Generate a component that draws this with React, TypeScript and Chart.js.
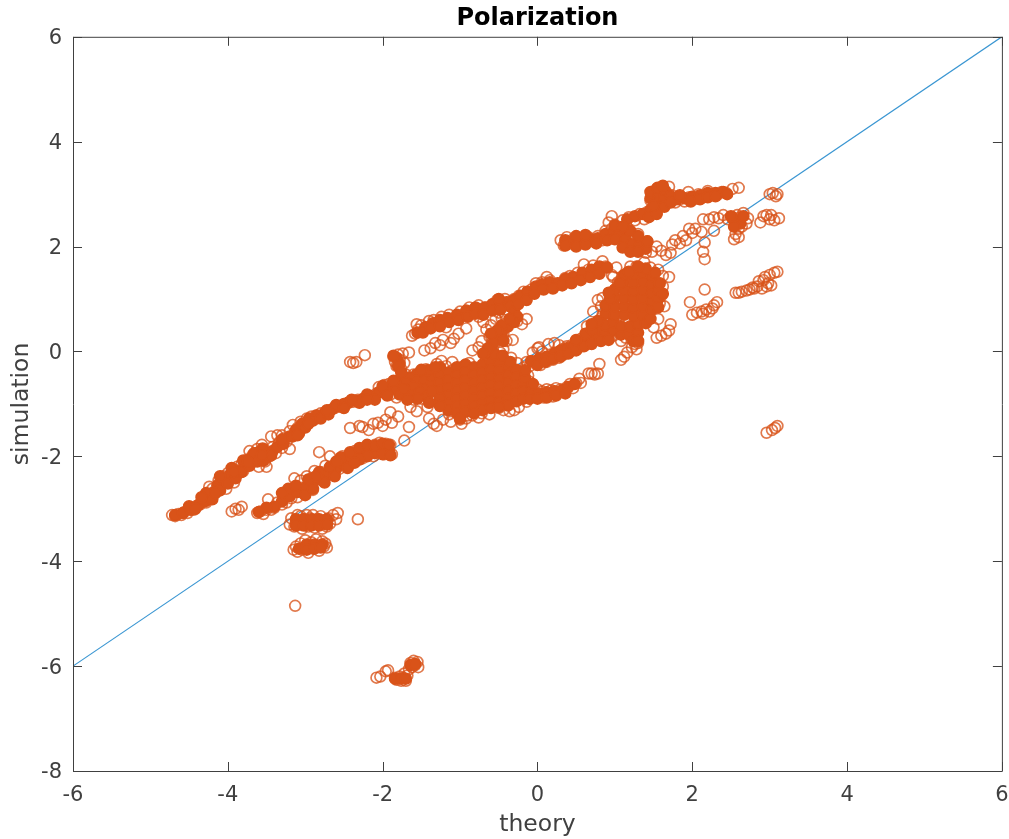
import React, { useEffect, useRef } from "react";
import { Chart, registerables } from "chart.js";

Chart.register(...registerables);

const titleText = "Polarization";
const xLabel = "theory";
const yLabel = "simulation";
const xTickValues = [-6, -4, -2, 0, 2, 4, 6];
const yTickValues = [-8, -6, -4, -2, 0, 2, 4, 6];
const lineX = [-6, 6];
const lineY = [-6, 6];

const bandUpperLeft = [
[-4.72,-3.12],[-4.68,-3.14],[-4.64,-3.1],[-4.6,-3.12],[-4.56,-3.06],[-4.52,-3.08],[-4.48,-3.0],[-4.44,-3.02],[-4.4,-2.94],[-4.36,-2.92],[-4.32,-2.86],[-4.28,-2.88],[-4.22,-2.8],[-4.2,-2.62],[-4.18,-2.72],[-4.24,-2.58],[-4.14,-2.58],[-4.12,-2.46],[-4.08,-2.52],[-4.06,-2.38],[-4.02,-2.46],[-4.0,-2.32],[-3.98,-2.4],[-3.94,-2.26],[-3.92,-2.36],[-3.88,-2.2],[-3.86,-2.32],[-3.82,-2.14],[-3.8,-2.28],[-3.76,-2.18],[-3.74,-2.06],[-3.7,-2.12],[-3.68,-1.98],[-3.64,-2.06],[-3.62,-1.86],[-3.6,-2.2],[-3.58,-1.98],[-3.56,-1.78],[-3.52,-2.1],[-3.5,-1.9],[-3.46,-2.0],[-3.44,-1.62],[-3.42,-1.82],[-3.38,-1.94],[-3.36,-1.6],[-3.34,-1.74],[-3.3,-1.84],[-3.28,-1.66],[-3.24,-1.72],[-3.2,-1.52],[-3.16,-1.4],[-3.14,-1.56],[-3.1,-1.46],[-3.06,-1.34],[-3.02,-1.38],[-2.98,-1.28],[-2.92,-1.24],[-2.86,-1.22],[-2.8,-1.18],[-2.74,-1.18],[-2.68,-1.12],[-2.62,-1.08],[-2.56,-1.04],[-2.5,-1.02],[-2.44,-0.98],[-2.38,-0.96],[-2.32,-0.92],[-2.26,-0.92],[-2.2,-0.9],[-2.14,-0.86],[-2.08,-0.8],[-2.02,-0.78],[-1.96,-0.76],[-2.05,-0.68],[-1.98,-0.64],[-1.92,-0.62],[-1.86,-0.72],[-1.8,-0.66],[-1.9,-0.82],[-1.82,-0.88],
[-2.42,-0.2],[-2.38,-0.22],[-2.34,-0.2],[-2.23,-0.07],
[-3.72,-1.9],[-3.5,-2.2],[-3.3,-1.6],[-3.2,-1.86],[-3.92,-2.5],[-4.02,-2.62],
];

const bandLowerLeft = [
[-3.95,-3.05],[-3.9,-3.0],[-3.86,-3.02],[-3.82,-2.96],[-3.62,-3.08],[-3.58,-3.05],[-3.54,-3.1],[-3.5,-3.02],[-3.48,-2.82],[-3.44,-3.02],[-3.4,-2.98],[-3.36,-2.88],[-3.3,-2.92],[-3.26,-2.76],[-3.24,-2.88],[-3.2,-2.66],[-3.18,-2.8],[-3.14,-2.42],[-3.12,-2.66],[-3.1,-2.78],[-3.06,-2.46],[-3.04,-2.6],[-3.0,-2.72],[-2.98,-2.38],[-2.96,-2.54],[-2.92,-2.42],[-2.9,-2.64],[-2.88,-2.28],[-2.84,-2.44],[-2.82,-1.92],[-2.8,-2.3],[-2.76,-2.48],[-2.74,-2.18],[-2.7,-2.34],[-2.68,-2.0],[-2.66,-2.22],[-2.62,-2.36],[-2.6,-2.12],[-2.56,-2.24],[-2.52,-2.0],[-2.5,-2.12],[-2.46,-2.22],[-2.42,-2.0],[-2.4,-2.12],[-2.36,-1.9],[-2.34,-2.06],[-2.3,-1.96],[-2.26,-2.04],[-2.22,-1.84],[-2.2,-1.96],[-2.16,-1.88],[-2.12,-2.0],[-2.1,-1.78],[-2.06,-1.92],[-2.02,-1.84],[-1.98,-1.96],[-1.96,-1.76],[-1.92,-1.88],[-1.88,-1.96],[-1.9,-1.78],[-1.98,-1.86],[-2.04,-1.74],
[-2.42,-1.46],[-2.3,-1.42],[-2.26,-1.44],[-2.18,-1.5],[-2.12,-1.38],[-2.06,-1.36],[-2.0,-1.42],[-1.96,-1.3],[-1.9,-1.16],[-1.88,-1.36],[-1.8,-1.24],[-1.72,-1.7],[-1.66,-1.44],
[-2.32,-3.2],[-3.13,-4.85],
];

const clusterMinus3 = [
[-3.2,-3.3],[-3.18,-3.18],[-3.14,-3.34],[-3.12,-3.24],[-3.1,-3.12],[-3.08,-3.3],[-3.04,-3.38],[-3.02,-3.2],[-3.0,-3.28],[-2.96,-3.34],[-2.94,-3.18],[-2.92,-3.26],[-2.88,-3.36],[-2.86,-3.2],[-2.82,-3.3],[-2.8,-3.14],[-2.78,-3.38],[-2.76,-3.24],[-2.72,-3.34],[-2.7,-3.18],[-2.68,-3.28],[-2.64,-3.12],[-2.6,-3.2],[-2.58,-3.08],[-3.06,-3.14],[-2.98,-3.12],[-2.9,-3.12],
[-3.15,-3.78],[-3.12,-3.72],[-3.1,-3.82],[-3.06,-3.66],[-3.04,-3.78],[-3.0,-3.6],[-2.98,-3.72],[-2.96,-3.84],[-2.92,-3.64],[-2.9,-3.76],[-2.86,-3.58],[-2.84,-3.7],[-2.82,-3.8],[-2.78,-3.62],[-2.76,-3.72],[-2.74,-3.66],[-2.72,-3.74],
];

const clusterBottom = [
[-2.08,-6.22],[-2.03,-6.2],[-1.96,-6.1],[-1.93,-6.08],[-1.84,-6.22],[-1.82,-6.26],[-1.78,-6.2],[-1.76,-6.28],[-1.74,-6.22],[-1.7,-6.28],[-1.68,-6.18],[-1.72,-6.14],[-1.66,-6.06],[-1.64,-5.94],[-1.62,-6.02],[-1.6,-5.9],[-1.58,-5.98],[-1.55,-5.92],[-1.54,-6.02],
];

const coreCluster = [
[-1.86,-0.1],[-1.84,-0.2],[-1.82,-0.28],[-1.8,-0.06],[-1.78,-0.16],[-1.76,-0.34],[-1.74,-0.04],[-1.72,-0.22],[-1.7,-0.44],[-1.72,-0.56],[-1.66,-0.62],[-1.6,-0.44],[-1.56,-0.7],[-1.5,-0.5],[-1.46,-0.62],[-1.7,-0.8],[-1.6,-0.92],[-1.64,-1.06],[-1.56,-1.14],[-1.5,-0.9],[-1.42,-1.06],[-1.4,-1.28],[-1.34,-1.38],[-1.3,-1.42],[-1.22,-1.3],[-1.4,-0.78],[-1.32,-0.9],
[-1.44,-0.34],[-1.38,-0.48],[-1.34,-0.62],[-1.28,-0.4],[-1.26,-0.56],[-1.22,-0.72],[-1.2,-0.88],[-1.16,-1.04],[-1.14,-1.2],[-1.1,-0.36],[-1.18,-0.28],[-1.12,-0.52],[-1.0,-1.3],[-0.98,-0.3],[-0.9,-1.22],[-0.88,-0.22],[-0.78,-1.12],[-0.76,-1.26],[-0.62,-1.2],[-0.62,-0.2],[-0.5,-1.08],[-0.5,-0.14],[-0.36,-1.14],[-0.38,-0.2],[-0.24,-1.06],[-0.26,-0.22],[-0.16,-0.3],[-0.14,-0.96],[-0.12,-0.46],[-0.1,-0.58],[-0.08,-0.72],[-1.3,-0.24],[-1.24,-0.18],[-1.1,-0.2],
[-1.12,-1.34],[-0.98,-1.38],[-0.84,-1.22],[-0.72,-1.18],[-0.92,-1.28],[-0.44,-1.12],[-0.3,-1.12],[-0.48,-0.02],[-0.58,-0.06],[-0.44,0.04],[-0.34,-0.12],
];

const tailLower = [
[-0.1,-0.9],[-0.06,-0.78],[-0.04,-0.86],[0.0,-0.72],[0.02,-0.84],[0.06,-0.76],[0.08,-0.88],[0.12,-0.72],[0.14,-0.82],[0.18,-0.74],[0.2,-0.86],[0.24,-0.7],[0.26,-0.8],[0.3,-0.72],[0.34,-0.78],[0.38,-0.68],[0.42,-0.62],[0.46,-0.7],[0.5,-0.6],[0.54,-0.52],[0.56,-0.6],[0.66,-0.42],[0.7,-0.42],[0.74,-0.44],[0.78,-0.42],[0.8,-0.24],
];

const bandLowerRight = [
[-0.14,-0.2],[-0.1,-0.28],[-0.04,-0.22],[0.0,-0.18],[0.04,-0.26],[0.08,-0.14],[0.12,-0.2],[0.16,-0.08],[0.2,-0.16],[0.24,-0.02],[0.28,-0.12],[0.32,0.04],[0.34,-0.06],[0.38,0.1],[0.4,0.0],[0.44,0.12],[0.46,0.02],[0.5,0.2],[0.52,0.06],[0.56,0.24],[0.58,0.12],[0.62,0.3],[0.64,0.16],[0.68,0.36],[0.7,0.2],[0.74,0.44],[0.76,0.28],[0.8,0.5],[0.82,0.34],[0.86,0.58],[0.88,0.4],[0.9,0.26],[0.94,0.62],[0.96,0.46],[0.98,0.3],[1.02,0.52],[1.04,0.36],[1.08,0.2],[1.1,0.44],[1.14,0.26],[1.18,0.42],[1.22,0.24],
[0.0,0.06],[0.06,0.0],[0.14,0.14],[0.02,0.08],[-0.06,-0.02],[0.22,0.16],[0.28,0.12],
[0.64,0.48],[0.72,0.76],[0.78,0.98],[0.82,0.86],[0.84,1.02],[1.08,-0.16],[1.12,-0.1],[1.16,-0.02],[1.22,0.08],[1.26,0.14],[1.28,0.04],[1.3,0.16],
];

const blobRight = [
[0.84,0.7],[0.9,0.84],[1.0,1.18],[1.04,1.32],[1.1,1.42],[1.16,1.5],[1.2,1.62],[1.28,1.62],[1.38,1.7],[1.46,1.6],[1.56,1.56],[1.62,1.44],[1.7,1.42],[1.62,1.24],[1.64,0.86],[1.6,1.06],[1.58,0.92],[1.54,0.26],[1.6,0.3],[1.66,0.34],[1.7,0.4],[1.72,0.52],[1.5,0.46],[1.3,0.5],[1.56,0.62],
[0.98,1.42],[1.02,1.6],[0.96,1.46],
];

const upperMiddle = [
[-1.62,0.3],[-1.58,0.34],[-1.54,0.42],[-1.56,0.52],[-1.5,0.5],[-1.44,0.46],[-1.4,0.58],[-1.34,0.6],[-1.28,0.56],[-1.24,0.66],[-1.18,0.46],[-1.14,0.7],[-1.06,0.64],[-1.0,0.76],[-0.94,0.72],[-0.88,0.84],[-0.82,0.8],[-0.76,0.88],[-0.7,0.76],[-0.66,0.84],[-0.58,0.9],[-0.52,0.98],[-0.46,0.9],[-0.42,1.0],[-0.36,0.94],[-0.3,1.0],[-0.24,1.06],[-0.18,1.14],[-0.14,1.1],[-0.08,1.18],[-0.02,1.3],[0.02,1.22],[0.06,1.32],[0.12,1.42],[0.16,1.36],[0.24,1.26],[0.3,1.3],[0.36,1.4],[0.42,1.44],[0.48,1.4],[0.52,1.5],[0.58,1.46],[0.6,1.66],[0.66,1.56],[0.72,1.64],[0.78,1.58],[0.84,1.72],[0.88,1.62],
[-1.46,0.02],[-1.38,0.06],[-1.32,0.16],[-1.26,0.12],[-1.22,0.22],[-1.12,0.16],[-1.08,0.24],[-1.02,0.34],[-0.92,0.44],[-1.66,-0.02],
[-0.76,0.66],[-0.7,0.56],[-0.66,0.42],[-0.62,0.28],[-0.58,0.18],[-0.6,0.5],[-0.54,0.62],[-0.5,0.74],[-0.46,0.62],[-0.42,0.72],[-0.38,0.48],[-0.34,0.62],[-0.26,0.58],[-0.2,0.52],[-0.14,0.62],[-0.44,0.34],[-0.32,0.22],[-0.76,0.08],[-0.72,0.2],[-0.56,0.28],[-0.4,0.2],[-0.84,0.02],
];

const upperRight = [
[0.3,2.12],[0.34,2.02],[0.38,2.18],[0.42,2.06],[0.46,2.14],[0.5,2.04],[0.56,2.16],[0.6,2.08],[0.66,2.18],[0.72,2.1],[0.78,2.2],[0.84,2.12],[0.88,2.3],[0.92,2.2],[0.96,2.34],[1.0,2.42],[1.04,2.3],[1.08,2.2],[1.1,2.5],[1.14,2.04],[1.16,2.36],[1.2,2.14],[1.22,1.96],[1.26,2.06],[1.3,2.24],[1.32,1.92],[1.36,2.02],[1.4,1.88],[1.42,2.1],[1.48,1.9],[1.54,2.0],[1.6,1.92],[1.66,1.84],[1.72,1.88],
[0.92,2.46],[0.96,2.58],[1.18,2.56],[1.26,2.5],[1.32,2.62],[1.38,2.52],[1.42,2.66],[1.48,2.72],[1.54,2.64],[1.58,2.78],[1.46,2.88],[1.48,3.0],[1.52,2.92],[1.54,3.1],[1.56,2.82],[1.58,3.02],[1.62,3.12],[1.62,2.9],[1.66,3.04],[1.7,3.14],[1.7,2.86],[1.74,2.98],[1.78,2.84],[1.84,2.9],[1.9,2.86],[1.96,2.94],[2.02,2.9],[2.08,3.0],[2.14,2.94],[2.2,3.06],[2.26,3.0],[2.32,2.98],[2.38,3.04],[2.44,3.02],[2.52,3.1],[2.6,3.12],[1.95,3.04],
];

const rightEdge = [
[1.74,2.04],[1.78,2.12],[1.84,2.06],[1.88,2.2],[1.92,2.12],[1.96,2.34],[2.0,2.26],[2.04,2.34],[2.12,2.28],[2.16,2.08],[2.14,1.9],[2.16,1.76],[2.28,2.3],[2.14,2.52],[2.22,2.52],[2.28,2.56],[2.34,2.54],[2.4,2.6],[2.46,2.52],[2.52,2.56],[2.58,2.46],[2.62,2.56],[2.66,2.64],[2.6,2.34],[2.56,2.24],[2.54,2.14],[2.6,2.18],[2.64,2.38],[2.7,2.44],[2.58,2.6],[2.72,2.54],[2.88,2.46],[2.92,2.58],[2.96,2.6],[3.0,2.52],[3.02,2.6],[3.06,2.5],[3.12,2.54],
[3.0,3.0],[3.04,3.02],[3.08,2.96],[3.1,3.0],
[1.97,0.94],[2.0,0.7],[2.06,0.74],[2.12,0.76],[2.14,0.72],[2.18,0.8],[2.22,0.76],[2.16,1.18],[2.28,0.88],[2.32,0.94],[2.26,0.82],
[2.56,1.12],[2.6,1.12],[2.64,1.14],[2.7,1.16],[2.74,1.18],[2.78,1.22],[2.8,1.2],[2.84,1.24],[2.86,1.34],[2.9,1.2],[2.92,1.36],[2.96,1.24],[2.94,1.42],[2.98,1.3],[3.02,1.26],[3.0,1.46],[3.06,1.5],[3.1,1.52],
[2.96,-1.55],[3.03,-1.5],[3.07,-1.46],[3.1,-1.42],
];

// Places where the rings overlap so much that they read as solid colour.
const denseLeftUpper = [
[-4.68,-3.12],[-4.58,-3.08],[-4.48,-3.02],[-4.38,-2.93],[-4.28,-2.85],[-4.2,-2.7],[-4.13,-2.55],[-4.05,-2.44],[-3.97,-2.35],[-3.87,-2.27],[-3.78,-2.16],[-3.7,-2.04],[-3.6,-1.92],[-3.5,-2.02],[-3.42,-1.9],[-3.36,-1.82],[-3.28,-1.76],[-3.2,-1.62],[-3.12,-1.5],[-3.04,-1.38],[-2.95,-1.28],[-2.85,-1.22],[-2.75,-1.17],[-2.65,-1.1],[-2.55,-1.05],[-2.45,-0.98],[-2.35,-0.94],[-2.25,-0.9],[-2.15,-0.86],[-2.05,-0.78],[-1.97,-0.72],[-1.9,-0.66],[-1.82,-0.72],[-1.74,-0.62],
[-4.5,-2.95],[-4.42,-3.0],[-4.28,-2.7],[-4.2,-2.82],[-4.1,-2.65],[-4.1,-2.38],[-4.0,-2.52],[-3.95,-2.22],[-3.9,-2.42],[-3.82,-2.3],[-3.8,-2.08],[-3.72,-2.18],[-3.66,-1.94],[-3.62,-2.1],[-3.55,-1.85],[-3.54,-2.08],[-3.44,-1.98],[-3.3,-1.68],[-3.16,-1.62],[-3.08,-1.56],[-3.0,-1.45],[-2.9,-1.32],[-2.8,-1.28],[-2.7,-1.2],[-2.6,-1.02],[-2.5,-1.0],[-2.3,-0.98],[-2.2,-0.82],[-2.1,-0.92],[-2.0,-0.66],[-1.94,-0.84],[-1.86,-0.56],[-1.78,-0.82],[-1.7,-0.72],[-1.64,-0.6],[-1.6,-0.8],[-1.52,-0.66],[-1.56,-0.44],[-1.74,-0.46],
[-4.34,-2.78],[-4.16,-2.7],[-3.92,-2.3],[-3.74,-2.1],[-3.56,-1.98],[-3.1,-1.6],[-2.96,-1.38],[-2.72,-1.12],[-2.5,-1.08],[-2.4,-0.92],[-2.2,-0.92],
];

const denseLeftLower = [
[-3.3,-2.86],[-3.2,-2.76],[-3.1,-2.68],[-3.0,-2.6],[-2.9,-2.5],[-2.8,-2.42],[-2.7,-2.32],[-2.6,-2.24],[-2.5,-2.14],[-2.42,-2.04],[-2.34,-1.98],[-2.26,-1.92],[-2.16,-1.9],[-2.06,-1.86],[-1.98,-1.86],[-1.92,-1.9],[-2.1,-1.94],[-2.2,-2.0],
[-3.22,-2.62],[-3.12,-2.56],[-3.0,-2.74],[-2.9,-2.62],[-2.82,-2.3],[-2.75,-2.5],[-2.68,-2.2],[-2.62,-2.38],[-2.54,-2.02],[-2.45,-2.22],[-2.42,-1.92],[-2.3,-1.84],[-2.2,-1.78],[-2.1,-1.8],[-2.0,-1.76],[-1.92,-1.78],[-2.3,-2.06],[-2.0,-1.96],[-1.9,-1.98],
[-3.4,-2.96],[-3.5,-2.98],[-3.6,-3.06],[-3.3,-2.7],[-2.96,-2.44],[-2.86,-2.38],[-2.6,-2.1],[-2.36,-2.12],
];

const denseClusters = [
[-3.12,-3.2],[-3.02,-3.2],[-2.92,-3.2],[-2.82,-3.2],[-2.72,-3.2],[-3.12,-3.32],[-3.02,-3.32],[-2.92,-3.32],[-2.82,-3.32],[-2.72,-3.3],
[-3.08,-3.76],[-2.98,-3.68],[-2.88,-3.68],[-2.78,-3.68],[-2.98,-3.78],[-2.88,-3.76],[-2.8,-3.74],
[-1.84,-6.24],[-1.76,-6.24],[-1.7,-6.24],[-1.64,-5.98],[-1.58,-5.96],
];

const denseCore = [
[-1.82,-0.12],[-1.78,-0.24],[-1.66,-0.5],[-1.56,-0.56],[-1.46,-0.56],[-1.46,-0.72],[-1.36,-0.6],[-1.36,-0.46],
[-1.26,-0.3],[-1.26,-0.45],[-1.26,-0.6],[-1.26,-0.75],[-1.15,-0.4],[-1.15,-0.55],[-1.15,-0.7],[-1.15,-0.85],[-1.15,-1.0],[-1.15,-1.12],
[-1.04,-0.3],[-1.04,-0.45],[-1.04,-0.6],[-1.04,-0.75],[-1.04,-0.9],[-1.04,-1.05],[-1.04,-1.18],[-0.93,-0.25],[-0.93,-0.4],[-0.93,-0.55],[-0.93,-0.7],[-0.93,-0.85],[-0.93,-1.0],[-0.93,-1.15],
[-0.82,-0.3],[-0.82,-0.45],[-0.82,-0.6],[-0.82,-0.75],[-0.82,-0.9],[-0.82,-1.05],[-0.71,-0.25],[-0.71,-0.4],[-0.71,-0.55],[-0.71,-0.7],[-0.71,-0.85],[-0.71,-1.0],[-0.71,-1.12],
[-0.6,-0.2],[-0.6,-0.35],[-0.6,-0.5],[-0.6,-0.65],[-0.6,-0.8],[-0.6,-0.95],[-0.6,-1.08],[-0.49,-0.22],[-0.49,-0.37],[-0.49,-0.52],[-0.49,-0.67],[-0.49,-0.82],[-0.49,-0.97],
[-0.38,-0.3],[-0.38,-0.45],[-0.38,-0.6],[-0.38,-0.75],[-0.38,-0.9],[-0.38,-1.03],[-0.27,-0.35],[-0.27,-0.5],[-0.27,-0.65],[-0.27,-0.8],[-0.27,-0.95],[-0.18,-0.62],[-0.18,-0.76],[-0.18,-0.9],
[-0.08,-0.78],[0.02,-0.8],[0.12,-0.78],[0.22,-0.76],[0.32,-0.74],[0.4,-0.68],[0.48,-0.62],
[-1.86,-0.08],[-1.8,-0.28],[-1.76,-0.4],[-1.7,-0.6],[-1.6,-0.68],[-1.72,-0.72],[-1.62,-0.84],[-1.52,-0.78],[-1.42,-0.86],[-1.36,-0.76],[-1.26,-0.9],[-1.26,-1.04],[-1.42,-0.36],[-1.32,-0.3],
[-1.0,-1.28],[-0.82,-1.18],[-0.5,-1.06],[-0.16,-0.5],[-0.16,-0.36],[-0.06,-0.62],[-0.1,-0.9],[0.0,-0.9],[0.12,-0.88],[0.24,-0.84],[0.36,-0.8],[-0.55,-0.05],[-0.45,-0.08],[-0.35,-0.2],
[-1.5,-0.35],[-1.55,-0.9],[-1.4,-0.98],[-1.68,-0.92],
];

const denseLowerRight = [
[-0.08,-0.18],[0.02,-0.14],[0.12,-0.1],[0.22,-0.04],[0.3,0.02],[0.38,0.06],[0.46,0.1],[0.54,0.16],[0.62,0.22],[0.7,0.28],[0.78,0.3],[0.78,0.44],[0.88,0.36],[0.88,0.5],[0.98,0.4],[0.98,0.56],[1.08,0.32],[1.08,0.48],[1.18,0.32],[1.2,0.48],[1.3,0.36],[1.3,0.52],
[0.88,0.72],[0.88,0.88],[1.0,0.7],[1.0,0.86],[1.0,1.02],[1.0,1.18],[1.12,0.7],[1.12,0.86],[1.12,1.02],[1.12,1.18],[1.12,1.34],[1.12,1.46],[1.24,0.68],[1.24,0.84],[1.24,1.0],[1.24,1.16],[1.24,1.32],[1.24,1.48],[1.36,0.7],[1.36,0.86],[1.36,1.02],[1.36,1.18],[1.36,1.34],[1.36,1.5],[1.48,0.8],[1.48,0.96],[1.48,1.12],[1.48,1.28],[1.48,1.44],[1.4,1.58],[1.56,1.0],[1.56,1.18],
[0.0,-0.26],[0.1,-0.2],[0.2,-0.14],[0.3,-0.1],[0.4,-0.04],[0.5,0.02],[0.6,0.1],[0.7,0.14],[0.5,0.22],[0.62,0.34],[0.7,0.42],[0.82,0.2],[0.92,0.22],[0.78,0.58],[0.7,0.52],
[1.58,1.3],[1.62,1.1],[1.56,0.84],[1.4,0.54],[1.46,0.62],[1.52,1.5],[0.94,1.0],[0.92,1.12],[1.06,1.3],[1.18,1.52],[1.3,1.62],[1.24,0.2],[1.3,0.2],
];

const denseUpper = [
[-1.55,0.36],[-1.45,0.46],[-1.35,0.54],[-1.26,0.6],[-1.16,0.64],[-1.04,0.7],[-0.92,0.78],[-0.8,0.84],[-0.68,0.84],[-0.58,0.9],[-0.48,0.92],[-0.4,0.94],[-0.3,0.98],[-0.22,1.06],[-0.13,1.14],[-0.02,1.24],[0.06,1.28],[0.16,1.32],[0.26,1.3],[0.36,1.38],[0.46,1.42],[0.58,1.5],[0.7,1.56],[0.8,1.62],
[-0.36,0.86],[-0.3,0.76],[-0.26,0.66],[-0.39,0.47],[-0.46,0.36],[-0.52,0.26],[-0.57,0.16],[-0.64,0.06],[-0.7,-0.04],
[0.36,2.12],[0.46,2.1],[0.56,2.12],[0.68,2.14],[0.78,2.16],[0.88,2.24],[0.98,2.28],[1.06,2.26],[1.14,2.14],[1.22,2.04],[1.32,2.02],[1.4,1.96],[1.2,2.3],[1.16,2.52],[1.26,2.58],[1.36,2.62],[1.46,2.7],[1.56,2.76],
[1.46,2.92],[1.46,3.04],[1.56,2.88],[1.56,3.02],[1.64,2.94],[1.64,3.08],[1.72,2.96],[1.8,2.9],[1.9,2.92],[2.0,2.95],[2.1,2.98],[2.2,3.02],[2.3,3.02],[2.4,3.04],
[2.56,2.48],[2.62,2.44],[2.52,2.54],
[-1.48,0.36],[-1.38,0.44],[-1.26,0.48],[-1.14,0.56],[-1.02,0.6],[-0.9,0.66],[-0.8,0.72],[-0.7,0.7],[-0.58,0.78],[-0.48,0.8],[-0.5,1.0],[-0.25,0.9],[-0.14,0.98],[-0.04,1.1],[0.08,1.18],[0.2,1.2],[0.32,1.26],[0.44,1.3],[0.56,1.36],[0.68,1.42],[0.8,1.48],[0.9,1.6],[-0.46,0.5],[-0.52,0.4],[-0.6,0.34],[-0.3,0.56],[-0.36,0.62],[-0.44,0.2],
[0.36,2.02],[0.5,2.0],[0.62,2.04],[0.5,2.2],[0.62,2.22],[0.76,2.06],[0.9,2.12],[1.0,2.14],[1.0,2.4],[1.1,2.38],[1.1,1.98],[1.2,1.9],[1.3,1.9],[1.42,2.1],[1.3,2.2],[1.44,2.56],[1.54,2.62],[1.64,2.76],[1.72,2.84],[1.55,3.12],[1.62,3.16],[1.5,2.78],[1.84,2.98],[1.98,2.86],[2.1,2.9],[2.2,2.94],[2.3,2.96],[2.45,3.0],[2.54,2.38],[2.66,2.58],[2.5,2.58],
];

const ringGroups = [
  bandUpperLeft, bandLowerLeft, clusterMinus3, clusterBottom, coreCluster,
  tailLower, bandLowerRight, blobRight, upperMiddle, upperRight, rightEdge,
];
const denseGroups = [denseLeftUpper, denseLeftLower, denseClusters, denseCore, denseLowerRight, denseUpper];

const TEXT = "#404040";
const FONT = "'DejaVu Sans', sans-serif";
const ORANGE = "#D95319";

const boxTicks = {
  id: "boxTicks",
  afterDatasetsDraw(chart: any) {
    const { ctx, chartArea: a, scales } = chart;
    ctx.save();
    ctx.strokeStyle = "#404040";
    ctx.lineWidth = 1;
    ctx.beginPath();
    const len = 9;
    for (const v of xTickValues) {
      const p = Math.round(scales.x.getPixelForValue(v)) + 0.5;
      ctx.moveTo(p, a.bottom); ctx.lineTo(p, a.bottom - len);
      ctx.moveTo(p, a.top); ctx.lineTo(p, a.top + len);
    }
    for (const v of yTickValues) {
      const p = Math.round(scales.y.getPixelForValue(v)) + 0.5;
      ctx.moveTo(a.left, p); ctx.lineTo(a.left + len, p);
      ctx.moveTo(a.right, p); ctx.lineTo(a.right - len, p);
    }
    ctx.rect(a.left + 0.5, a.top + 0.5, a.right - a.left, a.bottom - a.top);
    ctx.stroke();
    ctx.restore();
  },
};

export default function App() {
  const ref = useRef<HTMLCanvasElement>(null);
  useEffect(() => {
    const chart = new Chart(ref.current!, {
      type: "scatter",
      data: {
        datasets: [
          {
            label: "simulation (dense)",
            data: denseGroups.flat().map(([x, y]) => ({ x, y })),
            pointStyle: "circle",
            pointRadius: 5.5,
            pointBorderWidth: 1.5,
            pointBorderColor: ORANGE,
            pointBackgroundColor: ORANGE,
            order: 1,
          },
          {
            label: "simulation",
            data: ringGroups.flat().map(([x, y]) => ({ x, y })),
            pointStyle: "circle",
            pointRadius: 5.4,
            pointBorderWidth: 1.7,
            pointBorderColor: "rgba(217,83,25,0.78)",
            pointBackgroundColor: "rgba(0,0,0,0)",
            order: 2,
          },
          {
            label: "identity",
            data: lineX.map((x, i) => ({ x, y: lineY[i] })),
            showLine: true,
            pointRadius: 0,
            borderColor: "#3A96D2",
            borderWidth: 1.2,
            order: 3,
          },
        ],
      },
      plugins: [boxTicks],
      options: {
        responsive: false,
        animation: false,
        layout: { padding: { left: 0, right: 7, top: 0, bottom: 0 } },
        plugins: {
          legend: { display: false },
          tooltip: { enabled: false },
          title: {
            display: true,
            fullSize: false,
            text: titleText,
            color: "#000",
            font: { family: FONT, size: 24, weight: "bold", lineHeight: 1.2 },
            padding: { top: 4, bottom: 4 },
          },
        },
        scales: {
          x: {
            type: "linear",
            min: -6,
            max: 6,
            afterFit: (s: any) => { s.height = 68; s.paddingRight = 0; s.paddingLeft = 0; },
            afterBuildTicks: (s: any) => { s.ticks = xTickValues.map((value) => ({ value })); },
            grid: { display: false },
            border: { display: false },
            ticks: { color: TEXT, font: { family: FONT, size: 21 }, padding: 4, maxRotation: 0 },
            title: { display: true, text: xLabel, color: TEXT, font: { family: FONT, size: 23.5 }, padding: { top: 1, bottom: 0 } },
          },
          y: {
            type: "linear",
            min: -8,
            max: 6,
            afterFit: (s: any) => { s.width = 73; },
            afterBuildTicks: (s: any) => { s.ticks = yTickValues.map((value) => ({ value })); },
            grid: { display: false },
            border: { display: false },
            ticks: { color: TEXT, font: { family: FONT, size: 21 }, padding: 3, labelOffset: 2 },
            title: { display: true, text: yLabel, color: TEXT, font: { family: FONT, size: 23.5 }, padding: { top: 8, bottom: 0 } },
          },
        },
      },
    } as any);
    return () => chart.destroy();
  }, []);
  return (
    <div style={{ position: "fixed", left: 0, top: 0, width: 1009, height: 839, background: "#fff" }}>
      <canvas ref={ref} width={1009} height={839} style={{ display: "block" }} />
    </div>
  );
}
